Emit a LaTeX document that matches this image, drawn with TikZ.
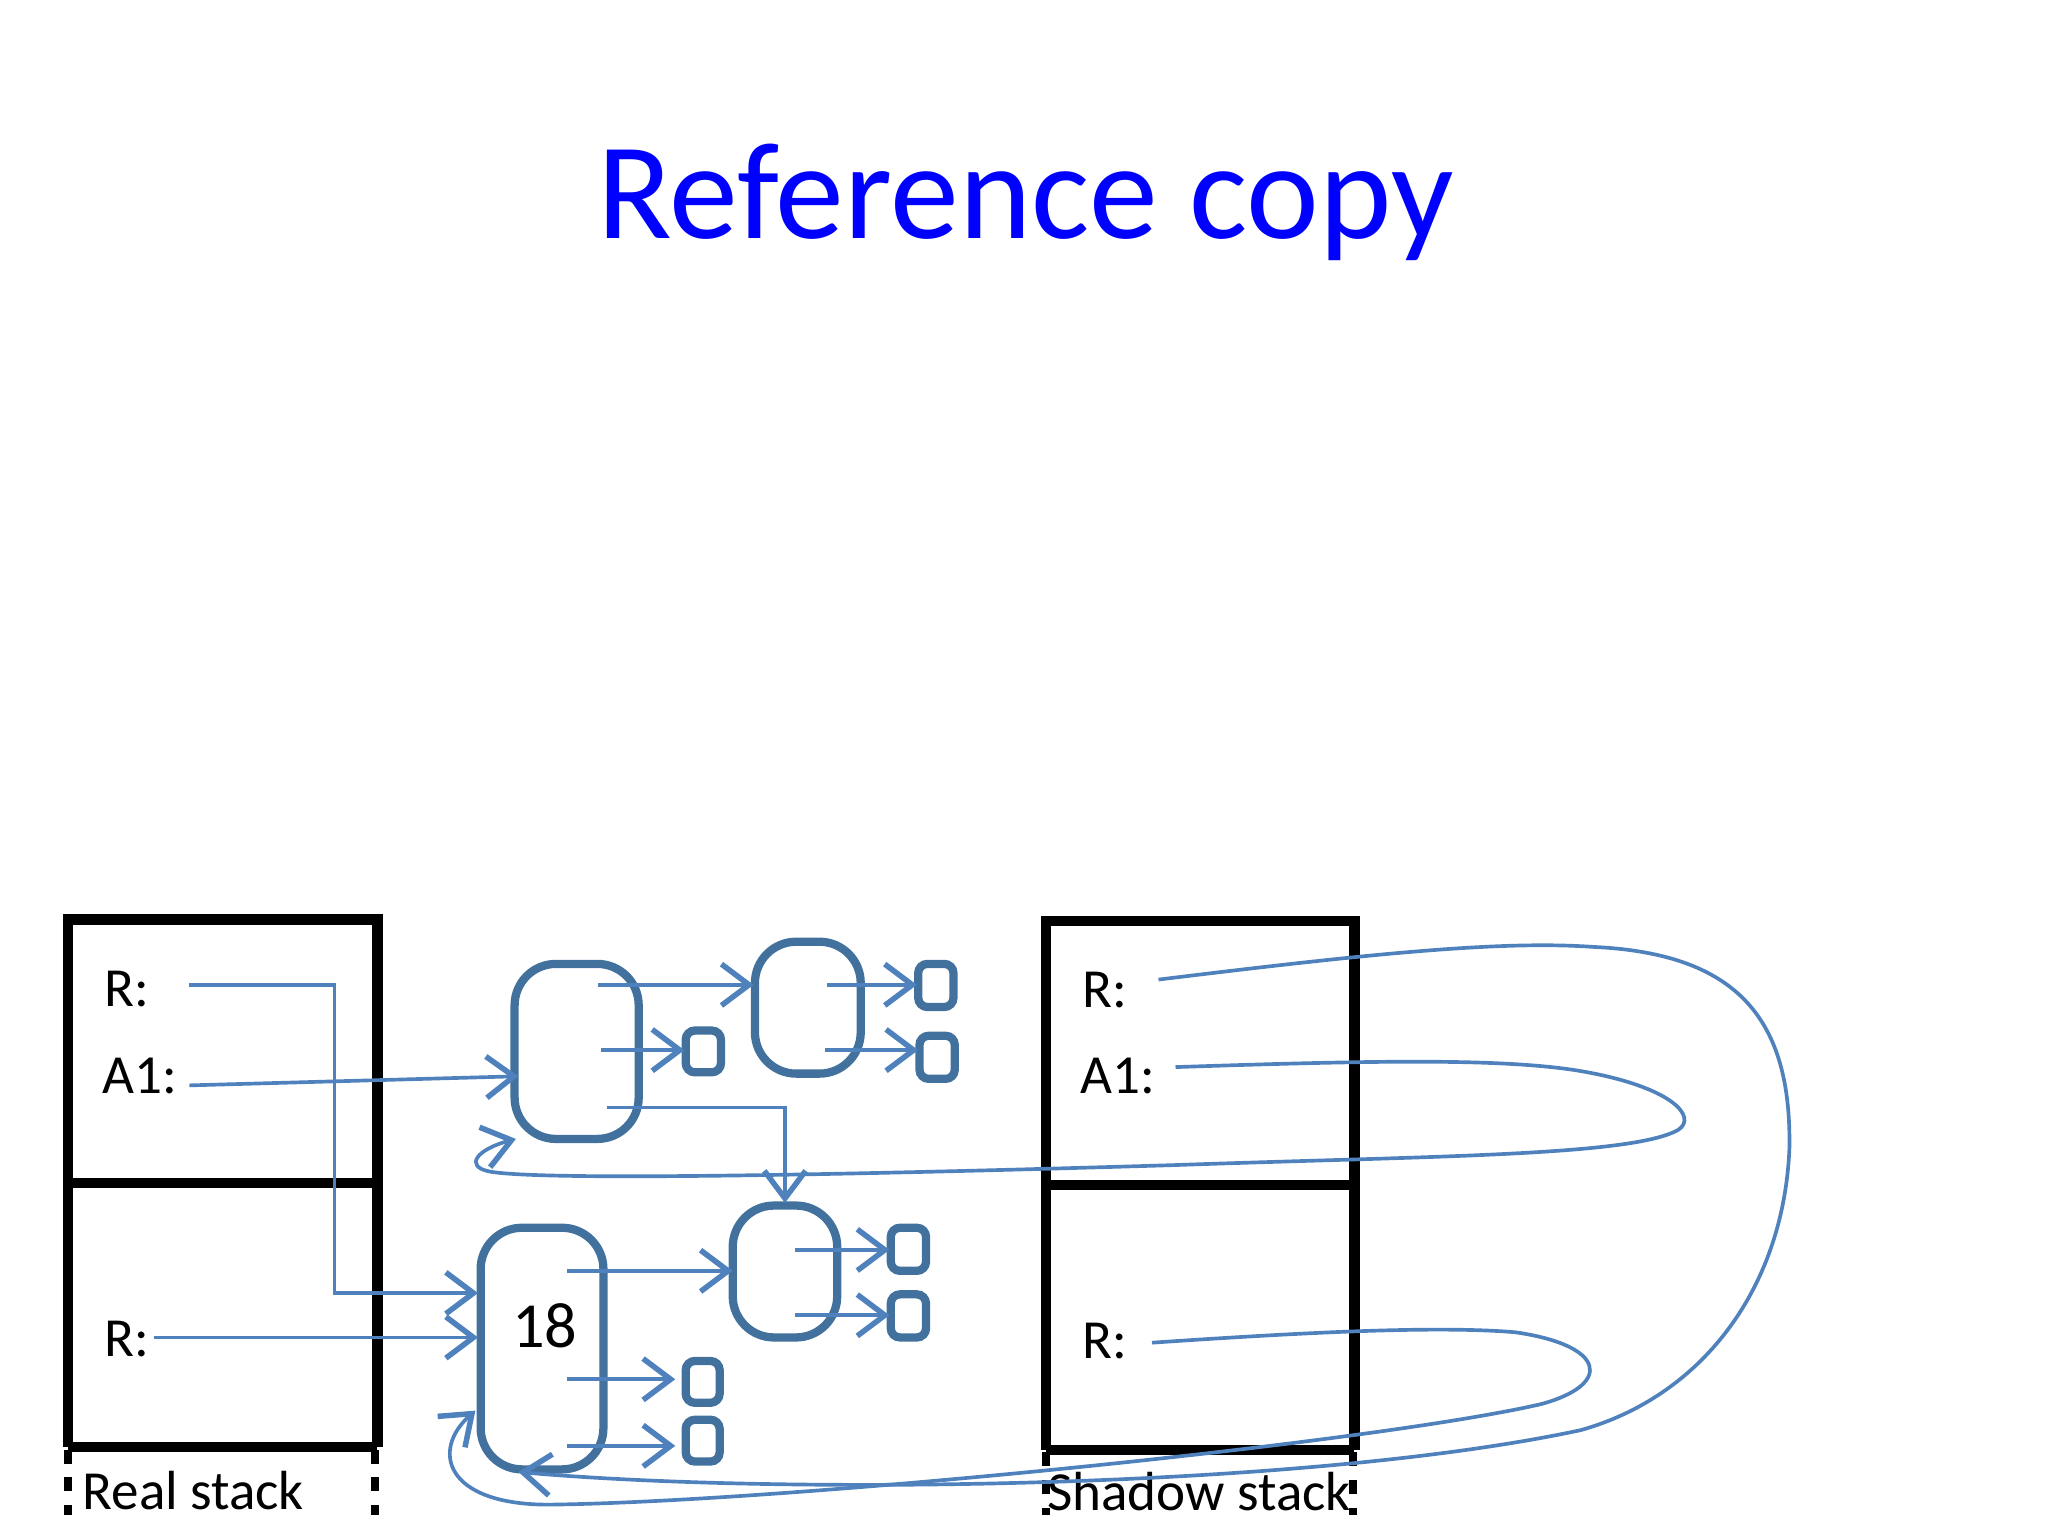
\documentclass[tikz,border=0pt]{standalone}
\usepackage{fontspec}
\setmainfont{Carlito}
\usetikzlibrary{arrows.meta}
\definecolor{bl}{HTML}{4F81BD}
\definecolor{bd}{HTML}{41719C}
\begin{document}
\begin{tikzpicture}[x=0.01cm,y=-0.01cm,
  stk/.style={draw=black,line width=2.2pt},
  obj/.style={draw=bd,line width=1.8pt,rounded corners=9pt},
  sq/.style={draw=bd,line width=1.8pt,rounded corners=2pt},
  ptr/.style={draw=bl,line width=0.8pt,-{Straight Barb[length=6pt,width=9pt,line width=1.2pt]}},
  lab/.style={font=\fontsize{12}{14}\selectfont,anchor=center,inner sep=0}]
\useasboundingbox (0,0) rectangle (1568,1176);
\node[font=\fontsize{30}{34}\selectfont,text=blue] (title) at (785,155) {Reference copy};
% real stack
\draw[stk] (52,1108) -- (52,704) -- (289,704) -- (289,1108);
\draw[stk] (52,906) -- (289,906);
\draw[stk] (52,1108) -- (289,1108);
\draw[stk,dashed,line width=1.8pt] (52,1110) -- (52,1160) (287,1110) -- (287,1160);
\node[lab] (rs) at (148,1141) {Real stack};
% shadow stack
\draw[stk] (801,1110) -- (801,705) -- (1037,705) -- (1037,1110);
\draw[stk] (801,907) -- (1037,907);
\draw[stk] (801,1110) -- (1037,1110);
\draw[stk,dashed,line width=1.8pt] (801,1112) -- (801,1160) (1036,1112) -- (1036,1160);
\node[lab] (ss) at (918,1142) {Shadow stack};
% labels
\node[lab] (r1) at (97,757) {R:};
\node[lab] (a1) at (107,824) {A1:};
\node[lab] (r2) at (97,1025) {R:};
\node[lab] (sr1) at (846,758) {R:};
\node[lab] (sa1) at (856,824) {A1:};
\node[lab] (sr2) at (846,1027) {R:};
% objects
\draw[obj] (394,738) rectangle (489,872);
\draw[obj] (578,721) rectangle (659,822);
\draw[obj] (561,923) rectangle (641,1024);
\draw[obj] (368,940) rectangle (462,1125);
\node[font=\fontsize{14}{16}\selectfont] (n18) at (417,1015) {18};
\draw[sq] (525,789) rectangle (552,821);
\draw[sq] (703,738) rectangle (730,771);
\draw[sq] (704,793) rectangle (731,826);
\draw[sq] (682,940) rectangle (709,973);
\draw[sq] (682,991) rectangle (709,1024);
\draw[sq] (525,1042) rectangle (551,1074);
\draw[sq] (525,1087) rectangle (551,1119);
% pointers
\draw[ptr] (145,754) -- (256,754) -- (256,990) -- (366,990);
\draw[ptr] (145,831) -- (397,824);
\draw[ptr] (118,1024) -- (366,1024);
\draw[ptr] (458,754) -- (577,754);
\draw[ptr] (460,804) -- (524,804);
\draw[ptr] (465,848) -- (601,848) -- (601,921);
\draw[ptr] (633,754) -- (702,754);
\draw[ptr] (632,804) -- (703,804);
\draw[ptr] (609,957) -- (681,957);
\draw[ptr] (609,1007) -- (681,1007);
\draw[ptr] (434,973) -- (561,973);
\draw[ptr] (434,1056) -- (517,1056);
\draw[ptr] (434,1107) -- (517,1107);
% shadow pointers
\draw[ptr] (887,750) .. controls (1050,730) and (1150,720) .. (1220,725)
  .. controls (1330,730) and (1372,780) .. (1370,880)
  .. controls (1365,990) and (1300,1070) .. (1210,1095)
  .. controls (1000,1140) and (600,1145) .. (397,1127);
\draw[ptr] (900,817) .. controls (1050,812) and (1150,810) .. (1210,820)
  .. controls (1280,832) and (1300,855) .. (1285,865)
  .. controls (1250,885) and (1100,885) .. (900,892)
  .. controls (700,898) and (420,905) .. (375,897)
  .. controls (355,893) and (365,880) .. (395,872);
\draw[ptr] (882,1028) .. controls (1000,1020) and (1100,1015) .. (1160,1020)
  .. controls (1230,1030) and (1235,1060) .. (1180,1075)
  .. controls (1050,1105) and (600,1150) .. (420,1152)
  .. controls (340,1152) and (330,1110) .. (364,1080);
\end{tikzpicture}
\end{document}
